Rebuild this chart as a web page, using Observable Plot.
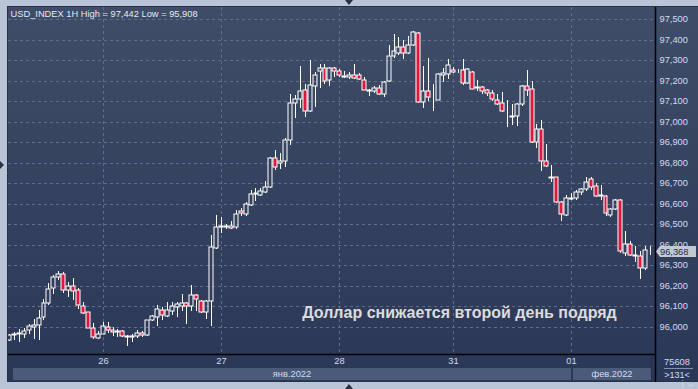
<!DOCTYPE html>
<html><head><meta charset="utf-8">
<script src="https://cdn.jsdelivr.net/npm/d3@7"></script>
<script src="https://cdn.jsdelivr.net/npm/@observablehq/plot@0.6"></script>
<style>
html,body{margin:0;padding:0;background:#b9c5d6;}
#wrap{position:relative;width:698px;height:389px;overflow:hidden;background:#b9c5d6;font-family:"Liberation Sans",Arial,sans-serif;}
#panel{position:absolute;left:7px;top:6px;width:691px;height:376px;box-sizing:border-box;background:linear-gradient(to bottom,#3f4d68,#2b3756);border-left:1px solid #27314a;border-top:1px solid #27314a;border-bottom:1px solid #27314a;}
#chart{position:absolute;left:0;top:0;}
#marks{position:absolute;left:0;top:0;pointer-events:none;}
</style></head><body>
<div id="wrap"><div id="panel"></div><div id="chart"></div>
<svg id="marks" width="698" height="389">
<polygon points="345,0 353,0 349,5" fill="#2a3142"/>
<polygon points="345,389 353,389 349,384" fill="#2a3142"/>
<polygon points="0,161 0,169 4,165" fill="#2a3142"/>
</svg>
</div>
<script>
// ---- data (USD_INDEX 1H, 131 hourly candles, index 0 = 25 Jan 05:00) ----
const open = [
95.935,95.963,95.966,95.968,95.984,96.000,96.011,96.049,96.117,96.192,
96.244,96.260,96.182,96.201,96.179,96.101,96.071,95.997,95.946,95.968,
95.998,95.987,95.976,95.979,95.957,95.953,95.955,95.972,95.960,96.032,
96.049,96.081,96.054,96.078,96.097,96.104,96.115,96.104,96.157,96.125,
96.073,96.125,96.387,96.488,96.487,96.493,96.485,96.564,96.550,96.595,
96.650,96.644,96.660,96.680,96.823,96.800,96.807,96.909,97.089,97.112,
97.154,97.050,97.172,97.246,97.262,97.202,97.262,97.249,97.219,97.216,
97.229,97.229,97.203,97.153,97.148,97.164,97.135,97.197,97.319,97.333,
97.364,97.335,97.372,97.432,97.094,97.151,97.119,97.108,97.228,97.233,
97.254,97.245,97.250,97.189,97.243,97.168,97.170,97.152,97.141,97.108,
97.092,97.054,97.025,97.027,97.087,97.176,97.160,96.900,96.965,96.811,
96.731,96.731,96.609,96.544,96.625,96.628,96.656,96.672,96.721,96.685,
96.641,96.640,96.547,96.575,96.619,96.360,96.406,96.350,96.347,96.287,
96.370];
const high = [
95.966,95.976,95.992,95.994,96.016,96.041,96.084,96.138,96.214,96.252,
96.275,96.270,96.219,96.240,96.192,96.122,96.072,96.021,95.981,96.024,
96.026,96.000,95.989,95.984,95.962,95.964,95.984,95.981,96.036,96.060,
96.105,96.097,96.122,96.122,96.122,96.162,96.122,96.203,96.162,96.133,
96.133,96.446,96.546,96.535,96.501,96.517,96.569,96.579,96.608,96.668,
96.676,96.676,96.709,96.826,96.863,96.847,96.920,97.137,97.132,97.273,
97.184,97.302,97.241,97.281,97.281,97.265,97.265,97.257,97.246,97.241,
97.281,97.239,97.216,97.159,97.172,97.180,97.197,97.372,97.428,97.413,
97.397,97.416,97.442,97.437,97.270,97.311,97.184,97.238,97.263,97.303,
97.267,97.258,97.303,97.263,97.246,97.201,97.176,97.157,97.152,97.133,
97.146,97.108,97.084,97.089,97.181,97.254,97.198,96.991,97.006,96.889,
96.791,96.733,96.615,96.645,96.653,96.669,96.677,96.731,96.731,96.702,
96.694,96.641,96.580,96.624,96.622,96.466,96.417,96.393,96.368,96.396,
96.396];
const low = [
95.933,95.938,95.927,95.946,95.968,95.943,95.938,96.036,96.106,96.162,
96.227,96.166,96.146,96.130,96.089,96.065,95.994,95.943,95.943,95.964,
95.971,95.955,95.951,95.951,95.908,95.927,95.948,95.951,95.955,96.029,
96.005,96.032,96.049,96.057,96.049,96.076,96.016,96.076,96.076,96.068,
96.037,96.003,96.380,96.458,96.478,96.475,96.478,96.543,96.543,96.590,
96.615,96.636,96.655,96.676,96.766,96.771,96.777,96.885,97.018,97.067,
97.021,97.047,97.070,97.164,97.184,97.172,97.216,97.216,97.213,97.210,
97.208,97.205,97.153,97.127,97.140,97.128,97.119,97.195,97.311,97.327,
97.307,97.330,97.370,97.091,97.067,97.099,97.050,97.105,97.193,97.206,
97.238,97.235,97.181,97.185,97.157,97.149,97.133,97.124,97.100,97.080,
97.048,96.973,96.986,96.978,97.076,97.124,96.897,96.872,96.759,96.778,
96.705,96.604,96.515,96.539,96.620,96.617,96.645,96.664,96.669,96.632,
96.617,96.539,96.534,96.572,96.360,96.344,96.344,96.315,96.233,96.276,
96.352];
const close = [
95.963,95.965,95.969,95.981,96.003,96.011,96.045,96.119,96.187,96.244,
96.260,96.182,96.200,96.175,96.109,96.068,95.997,95.951,95.968,96.003,
95.987,95.976,95.979,95.958,95.953,95.956,95.972,95.960,96.032,96.052,
96.086,96.057,96.081,96.101,96.114,96.117,96.102,96.157,96.138,96.073,
96.125,96.389,96.489,96.490,96.490,96.480,96.550,96.553,96.600,96.647,
96.653,96.663,96.681,96.823,96.777,96.810,96.912,97.091,97.112,97.151,
97.050,97.179,97.229,97.262,97.197,97.262,97.246,97.226,97.222,97.229,
97.211,97.208,97.155,97.151,97.164,97.135,97.193,97.322,97.346,97.364,
97.335,97.376,97.437,97.094,97.150,97.119,97.121,97.233,97.237,97.274,
97.243,97.248,97.189,97.258,97.160,97.165,97.149,97.141,97.111,97.087,
97.051,97.051,97.028,97.084,97.173,97.154,96.900,96.965,96.807,96.783,
96.728,96.607,96.550,96.628,96.628,96.658,96.672,96.706,96.682,96.637,
96.638,96.555,96.575,96.620,96.368,96.406,96.352,96.347,96.287,96.373,
96.368];
const dayTicks = [19, 43, 67, 90, 114];
const dayLabels = ["26", "27", "28", "31", "01"];
const monthLabels = ["янв.2022", "фев.2022"];
const monthBoundary = 114;
const yTicks = [96.0,96.1,96.2,96.3,96.4,96.5,96.6,96.7,96.8,96.9,97.0,97.1,97.2,97.3,97.4,97.5];
const titleText = "USD_INDEX 1H High = 97,442 Low = 95,908";
const noteText = "Доллар снижается второй день подряд";
const footTop = "75608";
const footBottom = ">131<";

// ---- build ----
const candles = open.map((o, i) => ({i, o, h: high[i], l: low[i], c: close[i]}));
const fmt = v => v.toFixed(3).replace(".", ",");
const FONT = "Liberation Sans, Arial, sans-serif";
const LABEL = "#cfdcf2";

const decoBottom = (index, scales, values, dims) => {
  const g = d3.create("svg:g");
  const left = dims.marginLeft, right = dims.width - dims.marginRight, bottom = dims.height - dims.marginBottom;
  const xb = Math.round(scales.x(monthBoundary));
  const bandY = bottom + 14, bandH = 12;
  const segs = [[left + 5, xb], [xb + 2, right - 4]];
  segs.forEach(([a, b], k) => {
    g.append("rect").attr("x", a).attr("y", bandY).attr("width", b - a).attr("height", bandH).attr("fill", "#4b5a79");
    g.append("text").attr("x", (a + b) / 2).attr("y", bandY + bandH / 2).attr("dy", "0.35em")
      .attr("text-anchor", "middle").attr("fill", LABEL).attr("font-size", 9.3).attr("font-family", FONT)
      .text(monthLabels[k]);
  });
  g.append("line").attr("x1", right - 3.5).attr("x2", right - 3.5).attr("y1", bottom + 3).attr("y2", bottom + 27).attr("stroke", "#243049");
  // frame lines
  g.append("line").attr("x1", left).attr("x2", right).attr("y1", bottom + 0.5).attr("y2", bottom + 0.5).attr("stroke", "#000").attr("stroke-width", 1.5);
  g.append("line").attr("x1", right + 0.5).attr("x2", right + 0.5).attr("y1", dims.marginTop).attr("y2", dims.height - 7).attr("stroke", "#000").attr("stroke-width", 1.5);
  // footer at right
  const cx = right + 22;
  g.append("text").attr("x", cx).attr("y", bottom + 8).attr("dy", "0.35em").attr("text-anchor", "middle")
    .attr("fill", LABEL).attr("font-size", 9.3).attr("font-family", FONT).text(footTop);
  g.append("line").attr("x1", right + 9).attr("x2", right + 38).attr("y1", bottom + 14.5).attr("y2", bottom + 14.5).attr("stroke", "#8391ad");
  g.append("text").attr("x", cx).attr("y", bottom + 21).attr("dy", "0.35em").attr("text-anchor", "middle")
    .attr("fill", LABEL).attr("font-size", 9).attr("font-family", FONT).text(footBottom);
  return g.node();
};

const priceTag = (index, scales, values, dims) => {
  const last = close[close.length - 1];
  const yv = Math.round(scales.y(last)) + 0.5;
  const x0 = dims.width - dims.marginRight;
  const g = d3.create("svg:g");
  g.append("path").attr("d", `M${x0 + 1},${yv} L${x0 + 5},${yv - 5.5} H${x0 + 41} V${yv + 5.5} H${x0 + 5} Z`).attr("fill", "#c3c8d1");
  g.append("text").attr("x", x0 + 5).attr("y", yv).attr("dy", "0.35em").attr("fill", "#1f2c46")
    .attr("text-anchor", "start").attr("font-size", 9.3).attr("font-family", FONT).text(fmt(last));
  return g.node();
};

const chart = Plot.plot({
  width: 698, height: 389,
  marginLeft: 8, marginRight: 43, marginTop: 7, marginBottom: 35,
  x: {type: "linear", domain: [-0.2, 131.04], round: true},
  y: {type: "linear", domain: [95.8685, 97.5587], round: true},
  style: {background: "transparent", fontFamily: FONT, fontSize: "9.3px", overflow: "visible"},
  marks: [
    Plot.gridY(yTicks, {stroke: "#5d6d8d", strokeOpacity: 1, strokeDasharray: "3,3"}),
    Plot.gridX(dayTicks, {stroke: "#5d6d8d", strokeOpacity: 1, strokeDasharray: "3,3"}),
    Plot.ruleX(candles, {x: "i", y1: "h", y2: d => Math.max(d.o, d.c), stroke: "#ffffff", strokeWidth: 1, clip: true}),
    Plot.ruleX(candles, {x: "i", y1: d => Math.min(d.o, d.c), y2: "l", stroke: "#ffffff", strokeWidth: 1, clip: true}),
    Plot.rect(candles, {x1: d => d.i - 0.4, x2: d => d.i + 0.4, y1: "o", y2: "c",
      fill: d => d.c < d.o ? "#e2173d" : "none", stroke: "#ffffff", strokeWidth: 1, clip: true}),
    Plot.axisY(yTicks, {anchor: "right", tickSize: 0, tickPadding: 4, tickFormat: fmt, color: LABEL, fontSize: 9.3}),
    Plot.axisX(dayTicks, {anchor: "bottom", tickSize: 0, tickPadding: 3, tickFormat: d => dayLabels[dayTicks.indexOf(d)], color: LABEL, fontSize: 9.3}),
    Plot.text([titleText], {text: d => d, frameAnchor: "top-left", dx: 2, dy: 3, fill: "#e4e9f2", fontSize: 9.3, lineAnchor: "top", textAnchor: "start"}),
    Plot.text([noteText], {text: d => d, frameAnchor: "bottom-right", dx: -196, dy: -42, textAnchor: "middle", lineAnchor: "middle",
      fill: "#dcdcdc", fontSize: 16, fontWeight: "bold"}),
    decoBottom,
    priceTag
  ]
});
document.getElementById("chart").appendChild(chart);
</script>
</body></html>
